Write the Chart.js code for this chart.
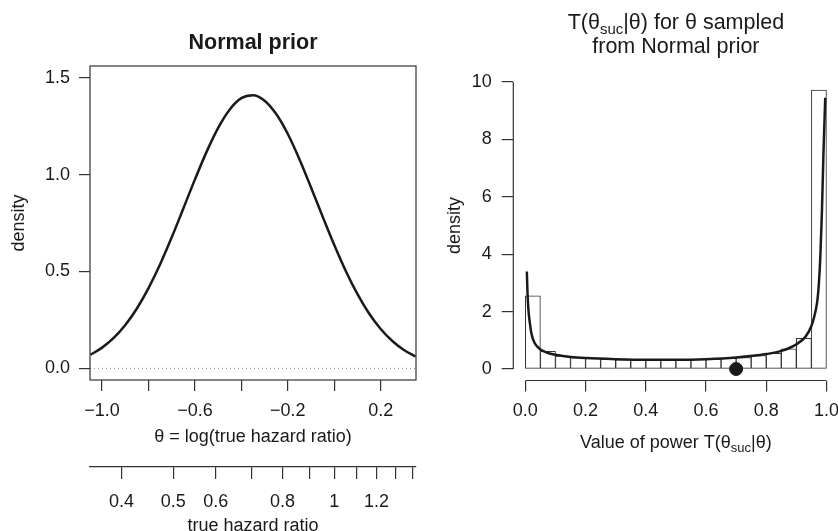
<!DOCTYPE html>
<html>
<head>
<meta charset="utf-8">
<script src="https://cdn.jsdelivr.net/npm/chart.js@4"></script>
<style>
  html, body { margin: 0; padding: 0; background: #fff; overflow: hidden; }
  #wrap { position: relative; width: 838px; height: 531px; overflow: hidden; }
  canvas { position: absolute; top: 0; }
  #left_chart { left: 0; }
  #right_chart { left: 419px; }
</style>
</head>
<body>
<div id="wrap">
  <canvas id="left_chart" width="419" height="531"></canvas>
  <canvas id="right_chart" width="427" height="531"></canvas>
</div>
<script>
// ---- left panel: normal prior on theta = log(HR)
var thetaX = [-1.05, -1.00, -0.95, -0.90, -0.85, -0.80, -0.75, -0.70, -0.65, -0.60,
              -0.55, -0.50, -0.45, -0.40, -0.35, -0.30, -0.25, -0.20, -0.15, -0.10,
              -0.05, 0.00, 0.05, 0.10, 0.15, 0.20, 0.25, 0.30, 0.35];
var priorDensity = [0.070, 0.107, 0.157, 0.224, 0.309, 0.414, 0.537, 0.676, 0.825, 0.975,
                    1.117, 1.241, 1.336, 1.394, 1.409, 1.381, 1.312, 1.209, 1.079, 0.933,
                    0.783, 0.636, 0.501, 0.383, 0.283, 0.203, 0.141, 0.095, 0.062];
var thetaTicks = [-1.0, -0.8, -0.6, -0.4, -0.2, 0.0, 0.2];
var thetaTickLabels = ['\u22121.0', '', '\u22120.6', '', '\u22120.2', '', '0.2'];
var priorYTicks = [0, 0.5, 1.0, 1.5];
var hrTicks = [0.4, 0.5, 0.6, 0.7, 0.8, 0.9, 1.0, 1.1, 1.2, 1.3, 1.4];
var hrTickLabels = ['0.4', '0.5', '0.6', '', '0.8', '', '1', '', '1.2', '', ''];

// ---- right panel: distribution of power
var histBreaks = [0, 0.05, 0.10, 0.15, 0.20, 0.25, 0.30, 0.35, 0.40, 0.45, 0.50,
                  0.55, 0.60, 0.65, 0.70, 0.75, 0.80, 0.85, 0.90, 0.95, 1.00];
var histDensity = [2.55, 0.62, 0.45, 0.40, 0.37, 0.35, 0.33, 0.32, 0.32, 0.32,
                   0.33, 0.34, 0.35, 0.37, 0.40, 0.47, 0.55, 0.70, 1.07, 9.72];
var powerX = [0.005, 0.007, 0.01, 0.015, 0.02, 0.03, 0.04, 0.05, 0.075, 0.10,
              0.15, 0.20, 0.30, 0.40, 0.50, 0.60, 0.70, 0.80, 0.85, 0.90,
              0.93, 0.95, 0.96, 0.97, 0.975, 0.98, 0.985, 0.99, 0.996];
var powerDensity = [3.40, 2.70, 2.10, 1.60, 1.25, 0.92, 0.78, 0.68, 0.56, 0.50,
                    0.42, 0.38, 0.34, 0.32, 0.32, 0.34, 0.40, 0.52, 0.63, 0.86,
                    1.12, 1.50, 1.85, 2.40, 3.00, 4.00, 5.50, 7.50, 9.45];
var powerTicks = [0, 0.2, 0.4, 0.6, 0.8, 1.0];
var powerYTicks = [0, 2, 4, 6, 8, 10];
var expectedPower = [0.7];

var INK = '#1a1a1a';
var AXIS = '#333333';
Chart.defaults.font.family = '"Liberation Sans", Arial, Helvetica, sans-serif';
Chart.defaults.font.size = 18;
Chart.defaults.color = INK;

function setTicks(list) {
  return function(s) { s.ticks = list.map(function(v) { return {value: v}; }); };
}
function fixWidth(w) { return function(s) { s.width = w; }; }
function fixHeight(h) {
  // fixed axis height; labels may run past the edge as in R
  return function(s) { s.height = h; s.paddingLeft = 0; s.paddingRight = 0; };
}

// box, axis segments and zero line
var framePlugin = {
  id: 'frame',
  beforeDatasetsDraw: function(chart, args, opts) {
    if (!opts.zeroLine) return;
    var ctx = chart.ctx, a = chart.chartArea;
    var y = chart.scales.y.getPixelForValue(0);
    ctx.save();
    ctx.strokeStyle = '#8a8a8a';
    ctx.lineWidth = 1;
    ctx.setLineDash([1, 3]);
    ctx.beginPath();
    ctx.moveTo(a.left, y);
    ctx.lineTo(a.right, y);
    ctx.stroke();
    ctx.restore();
  },
  afterDraw: function(chart, args, opts) {
    var ctx = chart.ctx, a = chart.chartArea;
    ctx.save();
    ctx.strokeStyle = AXIS;
    ctx.lineWidth = 1.2;
    if (opts.box) ctx.strokeRect(a.left, a.top, a.right - a.left, a.bottom - a.top);
    (opts.segments || []).forEach(function(id) {
      var s = chart.scales[id], t = s.ticks;
      var p0 = s.getPixelForValue(t[0].value);
      var p1 = s.getPixelForValue(t[t.length - 1].value);
      ctx.beginPath();
      if (s.isHorizontal()) { ctx.moveTo(p0, a.bottom); ctx.lineTo(p1, a.bottom); }
      else { ctx.moveTo(a.left, p0); ctx.lineTo(a.left, p1); }
      ctx.stroke();
    });
    ctx.restore();
  }
};

// text with a subscript, e.g. T(theta_suc | theta)
function drawRich(ctx, parts, cx, cy, size, bold) {
  var fam = Chart.defaults.font.family;
  var w = bold ? 'bold ' : '';
  var subSize = Math.round(size * 0.7);
  var total = 0;
  parts.forEach(function(p) {
    ctx.font = w + (p.sub ? subSize : size) + 'px ' + fam;
    p.w = ctx.measureText(p.t).width;
    total += p.w;
  });
  var x = cx - total / 2;
  ctx.textAlign = 'left';
  ctx.textBaseline = 'middle';
  parts.forEach(function(p) {
    ctx.font = w + (p.sub ? subSize : size) + 'px ' + fam;
    ctx.fillText(p.t, x, p.sub ? cy + size * 0.3 : cy);
    x += p.w;
  });
}

var richTextPlugin = {
  id: 'richText',
  afterDraw: function(chart, args, opts) {
    var ctx = chart.ctx, a = chart.chartArea;
    var cx = (a.left + a.right) / 2;
    ctx.save();
    ctx.fillStyle = INK;
    (opts.lines || []).forEach(function(l) {
      drawRich(ctx, l.parts, cx, l.y, l.size, l.bold);
    });
    ctx.restore();
  }
};

// ---------------- left chart
var priorPoints = thetaX.map(function(x, i) { return {x: x, y: priorDensity[i]}; });

new Chart(document.getElementById('left_chart').getContext('2d'), {
  type: 'line',
  data: {
    datasets: [{
      data: priorPoints,
      borderColor: INK,
      borderWidth: 2.5,
      pointRadius: 0,
      fill: false,
      cubicInterpolationMode: 'monotone'
    }]
  },
  options: {
    responsive: false,
    animation: false,
    devicePixelRatio: 1,
    layout: { padding: { left: 0, right: 3, top: 66, bottom: 0 } },
    plugins: {
      legend: { display: false },
      tooltip: { enabled: false },
      title: { display: false },
      frame: { box: true, zeroLine: true },
      richText: {
        lines: [{ parts: [{t: 'Normal prior'}], y: 43.3, size: 21.5, bold: true }]
      }
    },
    scales: {
      x: {
        type: 'linear', position: 'bottom', weight: 0,
        min: -1.052, max: 0.352,
        afterBuildTicks: setTicks(thetaTicks),
        afterFit: fixHeight(87),
        border: { display: false },
        grid: { drawOnChartArea: false, drawTicks: true, tickLength: 11, color: AXIS, lineWidth: 1.2 },
        ticks: {
          autoSkip: false, maxRotation: 0, padding: 9,
          callback: function(v, i) { return thetaTickLabels[i]; }
        },
        title: { display: true, text: '\u03b8 = log(true hazard ratio)', padding: { top: 0, bottom: 19.2 } }
      },
      x2: {
        type: 'linear', position: 'bottom', weight: 1,
        min: -1.052, max: 0.352,
        afterBuildTicks: function(s) {
          s.ticks = hrTicks.map(function(v) { return {value: Math.log(v)}; });
        },
        afterFit: fixHeight(64),
        border: { display: true, color: AXIS, width: 1.2 },
        grid: { drawOnChartArea: false, drawTicks: true, tickLength: 12, color: AXIS, lineWidth: 1.2 },
        ticks: {
          autoSkip: false, maxRotation: 0, padding: 12.2,
          callback: function(v, i) { return hrTickLabels[i]; }
        },
        title: { display: true, text: 'true hazard ratio', padding: { top: 0, bottom: -5.5 } }
      },
      y: {
        type: 'linear', position: 'left',
        min: -0.06, max: 1.56,
        afterBuildTicks: setTicks(priorYTicks),
        afterFit: fixWidth(90),
        border: { display: false },
        grid: { drawOnChartArea: false, drawTicks: true, tickLength: 11, color: AXIS, lineWidth: 1.2 },
        ticks: {
          autoSkip: false, padding: 9,
          callback: function(v) { return v.toFixed(1); }
        },
        title: { display: true, text: 'density', padding: { top: 8, bottom: 0 } }
      }
    }
  },
  plugins: [framePlugin, richTextPlugin]
});

// ---------------- right chart
var histBars = histDensity.map(function(d, i) {
  return {x: (histBreaks[i] + histBreaks[i + 1]) / 2, y: d};
});
var powerPoints = powerX.map(function(x, i) { return {x: x, y: powerDensity[i]}; });
var powerMarker = expectedPower.map(function(x) { return {x: x, y: 0}; });

var thetaSuc = [{t: 'T(\u03b8'}, {t: 'suc', sub: true}, {t: '|\u03b8)'}];

new Chart(document.getElementById('right_chart').getContext('2d'), {
  type: 'bar',
  data: {
    datasets: [{
      type: 'bar',
      data: histBars,
      backgroundColor: '#ffffff',
      borderColor: AXIS,
      borderWidth: 1,
      borderSkipped: false,
      barPercentage: 1,
      categoryPercentage: 1,
      grouped: false,
      order: 3
    }, {
      type: 'line',
      data: powerPoints,
      borderColor: INK,
      borderWidth: 2.5,
      pointRadius: 0,
      fill: false,
      cubicInterpolationMode: 'monotone',
      order: 2
    }, {
      type: 'scatter',
      data: powerMarker,
      backgroundColor: INK,
      borderColor: INK,
      pointRadius: 6.5,
      order: 1
    }]
  },
  options: {
    responsive: false,
    animation: false,
    devicePixelRatio: 1,
    layout: { padding: { left: 0, right: 0, top: 70.5, bottom: 0 } },
    plugins: {
      legend: { display: false },
      tooltip: { enabled: false },
      title: { display: false },
      frame: { box: false, segments: ['x', 'y'] },
      richText: {
        lines: [
          { parts: thetaSuc.concat([{t: ' for \u03b8 sampled'}]), y: 23.3, size: 21.5 },
          { parts: [{t: 'from Normal prior'}], y: 46.7, size: 21.5 },
          { parts: [{t: 'Value of power '}].concat(thetaSuc), y: 443.3, size: 18 }
        ]
      }
    },
    scales: {
      x: {
        type: 'linear', position: 'bottom',
        offset: false,
        min: -0.04, max: 1.04,
        afterBuildTicks: setTicks(powerTicks),
        afterFit: fixHeight(150.5),
        border: { display: false },
        grid: { offset: false, drawOnChartArea: false, drawTicks: true, tickLength: 11, color: AXIS, lineWidth: 1.2 },
        ticks: {
          autoSkip: false, maxRotation: 0, padding: 0,
          // tall line box pushes the labels down instead of tick padding
          font: { size: 18, lineHeight: 2.17 },
          callback: function(v) { return v.toFixed(1); }
        }
      },
      y: {
        type: 'linear', position: 'left',
        min: -0.4, max: 10.4,
        afterBuildTicks: setTicks(powerYTicks),
        afterFit: fixWidth(94.3),
        border: { display: false },
        grid: { drawOnChartArea: false, drawTicks: true, tickLength: 11.6, color: AXIS, lineWidth: 1.2 },
        ticks: {
          autoSkip: false, padding: 10,
          callback: function(v) { return String(v); }
        },
        title: { display: true, text: 'density', padding: { top: 25.2, bottom: 0 } }
      }
    }
  },
  plugins: [framePlugin, richTextPlugin]
});
</script>
</body>
</html>
